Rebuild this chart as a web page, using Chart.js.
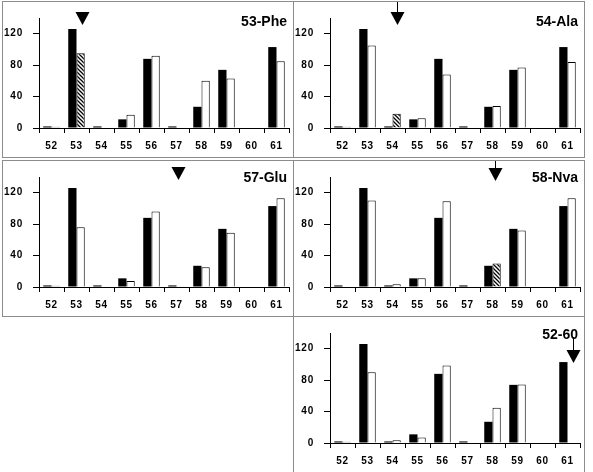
<!DOCTYPE html>
<html>
<head>
<meta charset="utf-8">
<script src="https://cdn.jsdelivr.net/npm/chart.js@4"></script>
<style>
  body { margin: 0; background: #fff; }
  #wrap { position: relative; width: 593px; height: 472px; overflow: hidden; }
  .box { position: absolute; border: 1px solid #8c8c8c; box-sizing: border-box; }
  canvas { position: absolute; }
</style>
</head>
<body>
<div id="wrap"></div>
<script>
// residue positions on the x axis
const residues = ['52', '53', '54', '55', '56', '57', '58', '59', '60', '61'];
const yTicks = [0, 40, 80, 120];
// wild type (black bars), same in every panel
const wildType = [2, 126, 2, 11, 88, 2, 27, 74, 0, 103];
// mutants (white bars)
const phe53 = [1.5, 95, 1, 17, 92, 1, 60, 63, 0, 85];
const ala54 = [1.5, 105, 18, 12.5, 68, 1, 28, 77, 0, 84];
const glu57 = [1.5, 76, 1, 7.5, 96, 1, 25, 69, 0, 113];
const nva58 = [0, 110, 3.5, 11, 109, 1, 30, 72, 0, 113];
const amide5260 = [1.5, 90, 3.5, 7, 98.5, 1, 45, 74.5, 0, 0];

const FONT = '"Liberation Sans", Arial, sans-serif';

function hatch() {
  const c = document.createElement('canvas');
  c.width = c.height = 4;
  const g = c.getContext('2d');
  g.fillStyle = '#fff'; g.fillRect(0, 0, 4, 4);
  g.strokeStyle = '#000'; g.lineWidth = 1.3;
  g.beginPath();
  g.moveTo(-1, -1); g.lineTo(5, 5);
  g.moveTo(-1, 3); g.lineTo(1, 5);
  g.moveTo(3, -1); g.lineTo(5, 1);
  g.stroke();
  return g.createPattern(c, 'repeat');
}
const stripes = hatch();

const marks = {
  id: 'marks',
  beforeDraw(chart) { chart.ctx.letterSpacing = '0.8px'; },
  afterDraw(chart, args, o) {
    const ctx = chart.ctx, x = chart.scales.x, ca = chart.chartArea;
    ctx.save();
    ctx.letterSpacing = '0px';
    ctx.fillStyle = '#000';
    ctx.font = 'bold 14px ' + FONT;
    ctx.textAlign = 'right';
    ctx.textBaseline = 'middle';
    ctx.fillText(o.title, ca.right - 2, o.titleY);
    const ax = Math.round(x.getPixelForValue(o.at) + o.dx);
    if (o.stemTop != null) {
      ctx.strokeStyle = '#000'; ctx.lineWidth = 1;
      ctx.beginPath(); ctx.moveTo(ax + 0.5, o.stemTop); ctx.lineTo(ax + 0.5, o.arrowTop); ctx.stroke();
    }
    ctx.beginPath();
    ctx.moveTo(ax - 6.5, o.arrowTop); ctx.lineTo(ax + 7.5, o.arrowTop); ctx.lineTo(ax + 0.5, o.arrowTop + 13);
    ctx.closePath(); ctx.fill();
    ctx.restore();
  }
};

const panels = [
  { left: 2, top: 1, title: '53-Phe', mutant: phe53, at: 1, dx: 5, titleY: 20, arrowTop: 10, stemTop: null },
  { left: 293, top: 1, title: '54-Ala', mutant: ala54, at: 2, dx: 4, titleY: 20, arrowTop: 10, stemTop: 0 },
  { left: 2, top: 160, title: '57-Glu', mutant: glu57, at: 5, dx: 1, titleY: 17, arrowTop: 6, stemTop: null },
  { left: 293, top: 160, title: '58-Nva', mutant: nva58, at: 6, dx: 2, titleY: 17, arrowTop: 7, stemTop: 0 },
  { left: 293, top: 316, title: '52-60', mutant: amide5260, at: 9, dx: 5, titleY: 18, arrowTop: 33, stemTop: 20, hatchOff: true }
];

const wrap = document.getElementById('wrap');

panels.forEach(p => {
  const box = document.createElement('div');
  box.className = 'box';
  box.style.left = p.left + 'px'; box.style.top = p.top + 'px';
  box.style.width = '292px'; box.style.height = (p.top === 316 ? 170 : 157) + 'px';
  wrap.appendChild(box);

  const cv = document.createElement('canvas');
  cv.width = 290; cv.height = 155;
  cv.style.left = (p.left + 1) + 'px'; cv.style.top = (p.top + 1) + 'px';
  wrap.appendChild(cv);

  const fills = p.mutant.map((v, i) => (i === p.at && !p.hatchOff) ? stripes : '#fff');

  new Chart(cv.getContext('2d'), {
    type: 'bar',
    data: {
      labels: residues,
      datasets: [
        { data: wildType, backgroundColor: '#000', borderWidth: 0 },
        { data: p.mutant, backgroundColor: fills, borderColor: '#000', borderWidth: 1 }
      ]
    },
    options: {
      responsive: false,
      animation: false,
      events: [],
      layout: { padding: { left: 0, right: 4, top: 13, bottom: 0 } },
      datasets: { bar: { categoryPercentage: 0.66, barPercentage: 1.0 } },
      plugins: {
        legend: { display: false },
        tooltip: { enabled: false },
        marks: p
      },
      scales: {
        x: {
          grid: { offset: true, drawOnChartArea: false, tickLength: 5, color: '#000' },
          border: { color: '#000', width: 1 },
          ticks: { color: '#000', padding: 7, font: { family: FONT, size: 10, weight: 'bold' } },
          afterFit: s => { s.height = 29; }
        },
        y: {
          min: 0, max: 140,
          grid: { drawOnChartArea: false, tickLength: 6, color: '#000' },
          border: { color: '#000', width: 1 },
          ticks: { color: '#000', padding: 10, font: { family: FONT, size: 10, weight: 'bold' } },
          afterBuildTicks: s => { s.ticks = yTicks.map(v => ({ value: v })); },
          afterFit: s => { s.width = 36; }
        }
      }
    },
    plugins: [marks]
  });
});
</script>
</body>
</html>
